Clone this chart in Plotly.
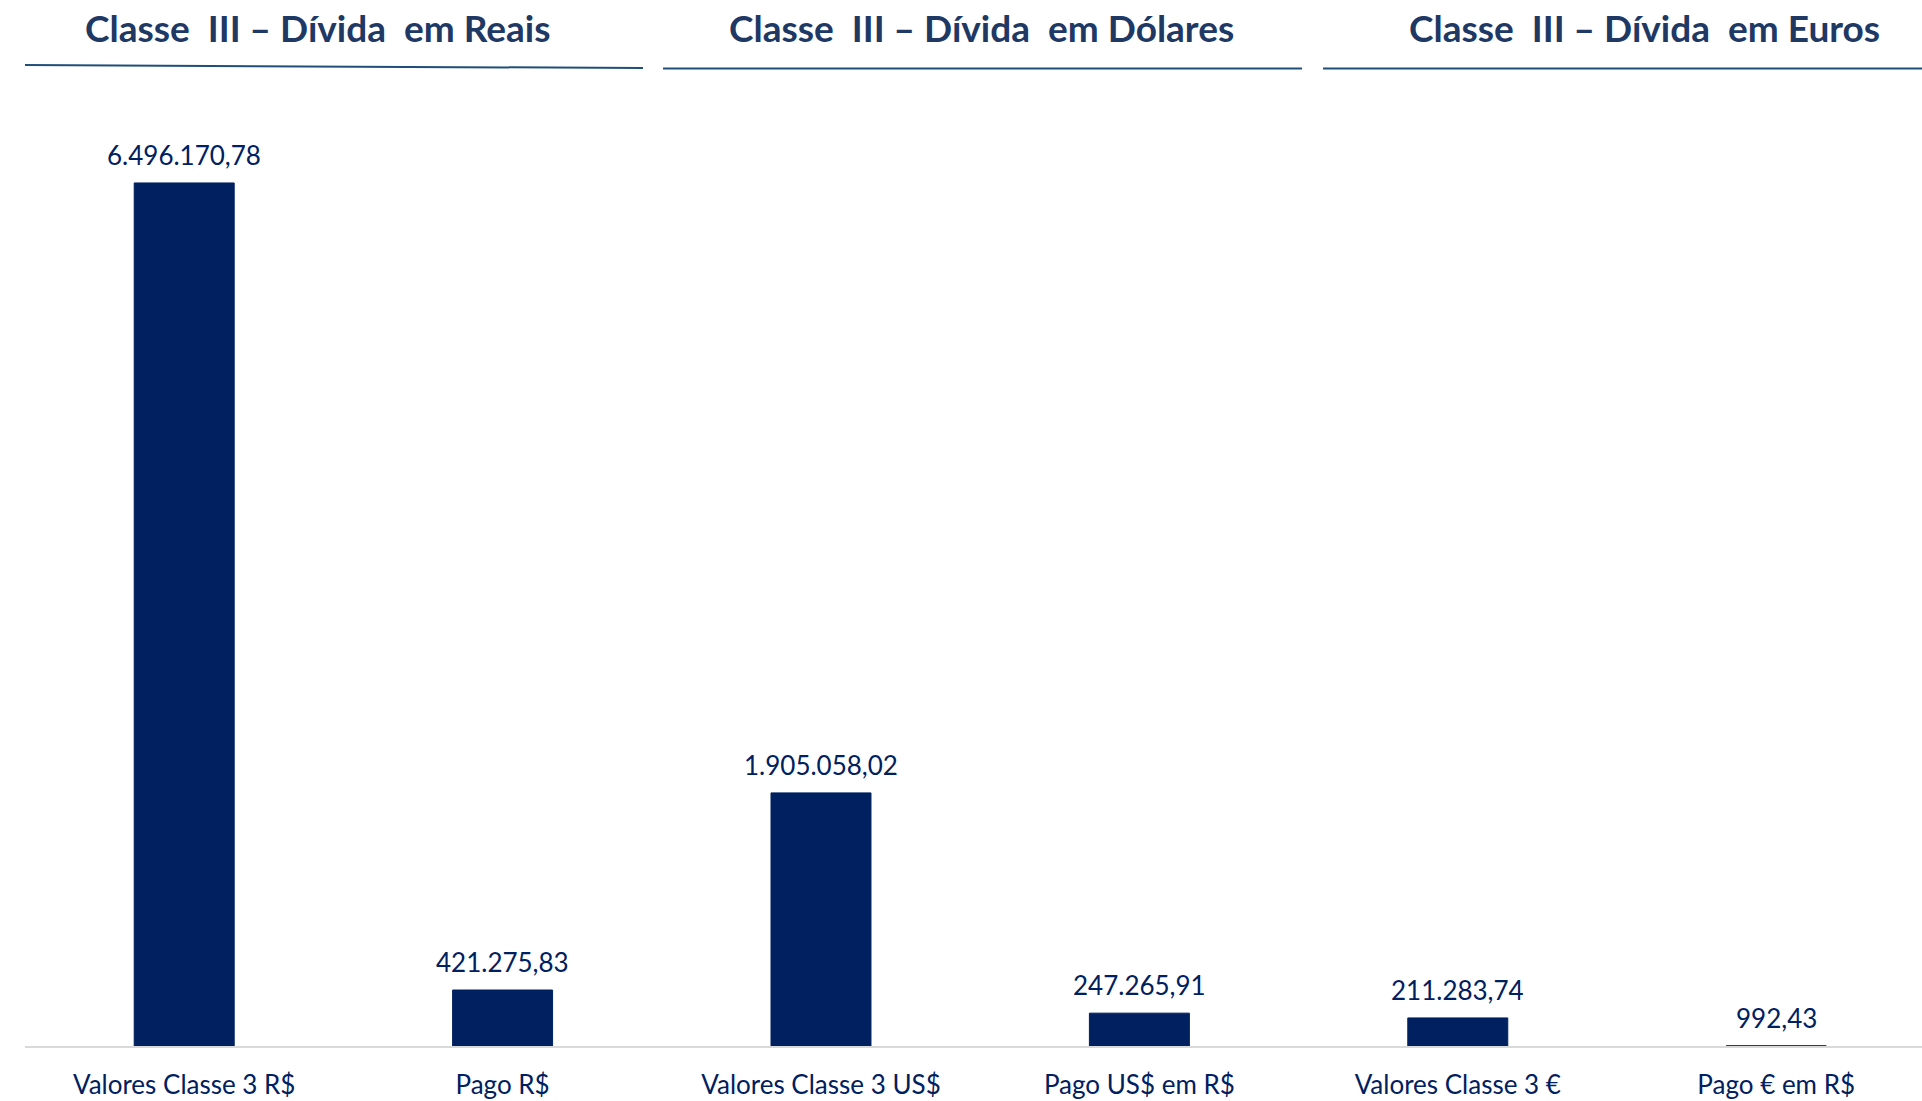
import plotly.graph_objects as go

categories = ["Valores Classe 3 R$", "Pago R$", "Valores Classe 3 US$",
              "Pago US$ em R$", "Valores Classe 3 €", "Pago € em R$"]
values = [6496170.78, 421275.83, 1905058.02, 247265.91, 211283.74, 992.43]
value_labels = ["6.496.170,78", "421.275,83", "1.905.058,02",
                "247.265,91", "211.283,74", "992,43"]
titles = ["Classe\u00a0 III – Dívida\u00a0 em Reais",
          "Classe\u00a0 III – Dívida\u00a0 em Dólares",
          "Classe\u00a0 III – Dívida\u00a0 em Euros"]
title_x = [0.42, 2.503, 4.585]

NAVY = "#002060"
TITLE_C = "#203864"
LINE_C = "#1F4E79"
FONT = "Lato"

W, H = 1922, 1101
ML, MR, MT, MB = 25, 0, 0, 55
plot_h = H - MT - MB

ymax = max(values) / 0.8251

fig = go.Figure()
fig.add_trace(go.Bar(
    x=categories, y=values, width=0.314,
    marker=dict(color=NAVY, line=dict(color=NAVY, width=1)),
    hoverinfo="skip",
))

for c, v, t in zip(categories, values, value_labels):
    fig.add_annotation(x=c, y=v, text=t, showarrow=False, xref="x", yref="y",
                       yanchor="middle", yshift=28,
                       font=dict(family=FONT, size=26, color=NAVY))

def py(pix):
    return (plot_h - (pix - MT)) / plot_h

for t, x in zip(titles, title_x):
    fig.add_annotation(x=x, y=py(28), text="<b>" + t + "</b>", showarrow=False,
                       xref="x", yref="paper", yanchor="middle", xanchor="center",
                       font=dict(family=FONT, size=37, color=TITLE_C))

unit = (W - ML - MR) / 5.958
def dx(pix):
    return (pix - ML) / unit - 0.5

lines = [(0, 643, 65, 68), (663, 1302, 68.5, 68.5), (1323, 1922, 68.5, 68.5)]
for x0, x1, y0, y1 in lines:
    fig.add_shape(type="line", xref="x", yref="paper",
                  x0=dx(x0), x1=dx(x1), y0=py(y0), y1=py(y1),
                  line=dict(color=LINE_C, width=2))

fig.update_layout(
    width=W, height=H,
    margin=dict(l=ML, r=MR, t=MT, b=MB, autoexpand=False),
    plot_bgcolor="white", paper_bgcolor="white",
    showlegend=False,
    xaxis=dict(type="category", range=[-0.5, 5.458], showgrid=False,
               showline=True, linecolor="#D9D9D9", linewidth=2,
               ticks="", ticklabelstandoff=15, automargin=False,
               tickfont=dict(family=FONT, size=26, color=NAVY)),
    yaxis=dict(range=[0, ymax], visible=False, showgrid=False, zeroline=False),
)

fig.write_html("out.html", config={"displayModeBar": False},
               post_script="document.body.style.margin='0';document.body.style.overflow='hidden';")
